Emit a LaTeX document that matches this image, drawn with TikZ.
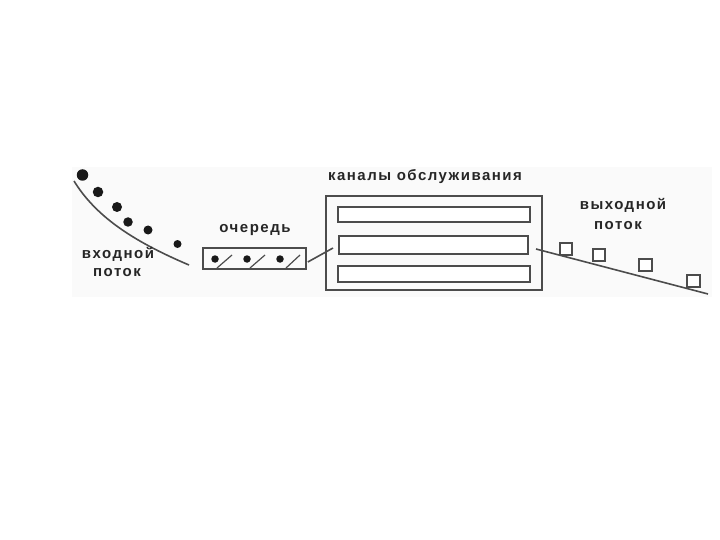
\documentclass[tikz,border=0pt]{standalone}
\usepackage{fontspec}
\setmainfont{Liberation Sans}
\newfontfamily\labfont[LetterSpace=10]{Liberation Sans Bold}
\begin{document}
\begin{tikzpicture}[x=1pt,y=-1pt,
  lbl/.style={font=\labfont\fontsize{15}{18}\selectfont, text=black!85, inner sep=0pt, align=center},
  ln/.style={draw=black!70, line width=1.6pt},
  dot/.style={circle, fill=black!90, inner sep=0pt},
  sq/.style={draw=black!70, fill=white, line width=1.8pt, minimum size=12.5pt, inner sep=0pt},
  chan/.style={draw=black!70, line width=1.6pt, fill=white, inner sep=0pt}]
\useasboundingbox (0,0) rectangle (720,540);
\fill[black!2] (72,167) rectangle (712,297);
% incoming
\node[dot, minimum size=11.5pt] (d1) at (82.5,175) {};
\node[dot, minimum size=10.5pt] (d2) at (98,192) {};
\node[dot, minimum size=10pt] (d3) at (117,207) {};
\node[dot, minimum size=9.5pt] (d4) at (128,222) {};
\node[dot, minimum size=9pt] (d5) at (148,230) {};
\node[dot, minimum size=8pt] (d6) at (177.5,244) {};
\coordinate (inA) at (74,181);
\coordinate (inB) at (189,265);
\draw[ln] (inA) .. controls (95,215) and (130,240) .. (inB);
\node[lbl] (in1) at (118,254) {входной};
\node[lbl] (in2) at (117,273) {поток};
% queue
\node[lbl] (ql) at (255,230) {очередь};
\node[draw=black!70, line width=1.6pt, minimum width=103pt, minimum height=21pt, inner sep=0pt] (q) at (254.5,258.5) {};
\node[dot, minimum size=7.5pt] (q1) at (215,259) {};
\node[dot, minimum size=7.5pt] (q2) at (247,259) {};
\node[dot, minimum size=7.5pt] (q3) at (280,259) {};
\draw[draw=black!70, line width=1.2pt] (217,268) -- (232,255) (250,268) -- (265,255) (286,268) -- (300,255);
% channels
\node[lbl] (cl) at (425,177) {каналы обслуживания};
\node[draw=black!70, line width=1.6pt, minimum width=216pt, minimum height=94pt, inner sep=0pt] (ch) at (434,243) {};
\node[chan, minimum width=192pt, minimum height=15pt] (c1) at (434,214.5) {};
\node[chan, minimum width=189pt, minimum height=18pt] (c2) at (433.5,245) {};
\node[chan, minimum width=192pt, minimum height=16pt] (c3) at (434,274) {};
\draw[ln] (q.east |- 0,262) ++(1,0) coordinate (qe) -- (333,248) coordinate (ce);
% output
\coordinate (outA) at (536,249);
\coordinate (outB) at (708,294);
\draw[ln] (outA) -- (outB);
\node[sq] (s1) at (566,249) {};
\node[sq] (s2) at (599,255) {};
\node[sq] (s3) at (645.5,265) {};
\node[sq] (s4) at (693.5,281) {};
\node[lbl] (out1) at (623,205) {выходной};
\node[lbl] (out2) at (618,226) {поток};
\end{tikzpicture}
\end{document}
